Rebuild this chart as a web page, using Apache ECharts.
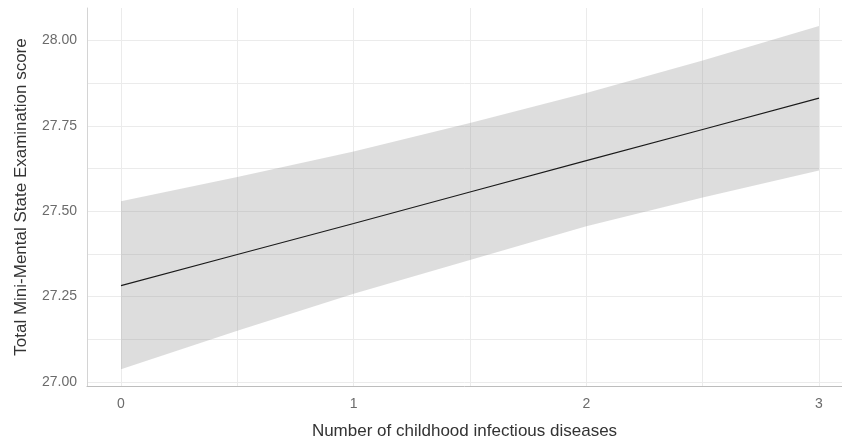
<!DOCTYPE html>
<html>
<head>
<meta charset="utf-8">
<script src="https://cdn.jsdelivr.net/npm/echarts@6/dist/echarts.min.js"></script>
<style>html,body{margin:0;padding:0;background:#fff}#c{width:842px;height:444px}</style>
</head>
<body>
<div id="c"></div>
<script>
// ---- data ----
const xValues   = [0, 0.5, 1, 1.5, 2, 2.5, 3];
const fitLine   = [27.282, 27.373, 27.464, 27.556, 27.648, 27.739, 27.831];
const bandLower = [27.037, 27.150, 27.258, 27.357, 27.456, 27.540, 27.619];
const bandUpper = [27.529, 27.600, 27.675, 27.758, 27.846, 27.941, 28.042];
const xTicks = [0, 1, 2, 3];
const xGrid  = [0, 0.5, 1, 1.5, 2, 2.5, 3];
const yTicks = [27.00, 27.25, 27.50, 27.75, 28.00];
const yGrid  = [27.00, 27.125, 27.25, 27.375, 27.50, 27.625, 27.75, 27.875, 28.00];

const FONT = '"Liberation Sans", Arial, sans-serif';
const chart = echarts.init(document.getElementById('c'), null, {renderer: 'canvas'});

const linePts = xValues.map((x, i) => [x, fitLine[i]]);
const bandPts = xValues.map((x, i) => [x, bandLower[i], bandUpper[i]]);

chart.setOption({
  animation: false,
  backgroundColor: '#ffffff',
  grid: {left: 87, right: 0, top: 8, bottom: 58, containLabel: false, outerBoundsMode: 'none'},
  xAxis: {
    type: 'value', min: -0.1461, max: 3.0989,
    name: 'Number of childhood infectious diseases',
    nameLocation: 'middle', nameGap: 37,
    nameTextStyle: {fontFamily: FONT, fontSize: 17, color: '#333333'},
    axisLine: {show: true, onZero: false, lineStyle: {color: '#bdbdbd', width: 1}},
    axisTick: {show: false, customValues: xGrid},
    axisLabel: {customValues: xTicks, fontFamily: FONT, fontSize: 14, color: '#6b6b6b', margin: 11,
                formatter: v => String(v)},
    splitLine: {show: true, lineStyle: {color: '#ebebeb', width: 1}}
  },
  yAxis: {
    type: 'value', min: 26.988, max: 28.095,
    name: 'Total Mini-Mental State Examination score',
    nameLocation: 'middle', nameGap: 57,
    nameTextStyle: {fontFamily: FONT, fontSize: 17, color: '#333333'},
    axisLine: {show: true, onZero: false, lineStyle: {color: '#d4d4d4', width: 1}},
    axisTick: {show: false, customValues: yGrid},
    axisLabel: {customValues: yTicks, fontFamily: FONT, fontSize: 14, color: '#6b6b6b', margin: 10,
                formatter: v => Number(v).toFixed(2)},
    splitLine: {show: true, lineStyle: {color: '#ebebeb', width: 1}}
  },
  series: [
    {
      type: 'custom',
      data: bandPts,
      encode: {x: 0, y: [1, 2]},
      renderItem: function (params, api) {
        if (params.dataIndex !== 0) return null;
        const upper = bandPts.map(p => api.coord([p[0], p[2]]));
        const lower = bandPts.map(p => api.coord([p[0], p[1]])).reverse();
        return {
          type: 'polygon',
          shape: {points: upper.concat(lower)},
          style: {fill: 'rgba(153,153,153,0.33)'}
        };
      },
      z: 2
    },
    {
      type: 'line',
      data: linePts,
      showSymbol: false,
      lineStyle: {color: '#1a1a1a', width: 1.1},
      z: 3
    }
  ]
});
</script>
</body>
</html>
